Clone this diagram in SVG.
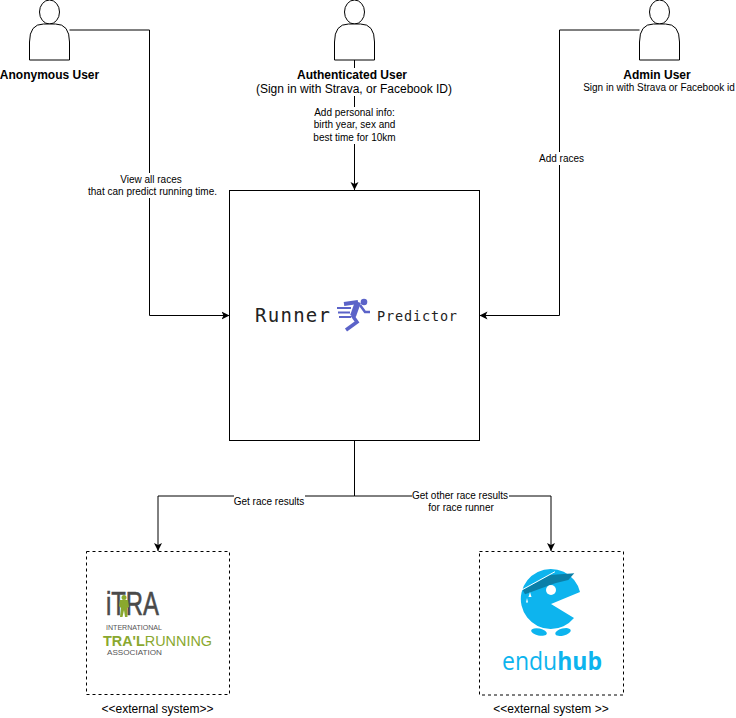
<svg xmlns="http://www.w3.org/2000/svg" width="736" height="718" viewBox="0 0 736 718">
<style>
text{font-family:"Liberation Sans",Arial,sans-serif;fill:#000}
.s{font-size:10px;text-anchor:middle}
.n{font-size:12px;text-anchor:middle}
.b{font-weight:bold}
.actor{fill:#fff;stroke:#000;stroke-width:1}
.c{fill:none;stroke:#000;stroke-width:1}
.ext{fill:#fff;stroke:#000;stroke-width:1;stroke-dasharray:3 3}
.mask{fill:#fff}
.logo{font-family:"DejaVu Sans Mono",monospace;fill:#222}
.ln{fill:none;stroke:#5b63c8}
</style>
<defs>
<marker id="arr" markerUnits="userSpaceOnUse" markerWidth="9" markerHeight="10" refX="8" refY="5" orient="auto"><path d="M0 1L8 5L0 9L2 5Z" fill="#000"/></marker>
<g id="person">
<ellipse cx="20" cy="12" rx="10" ry="12" class="actor"/>
<path d="M0 60V42Q0 24 14 24H26Q40 24 40 42V60Z" class="actor"/>
</g>
</defs>
<g id="connectors">
<path class="c" d="M69.500 30H149.500V315.500H229.500" marker-end="url(#arr)"/>
<path class="c" d="M354.500 60V190" marker-end="url(#arr)"/>
<path class="c" d="M639.500 30H559.500V315.500H479.500" marker-end="url(#arr)"/>
<path class="c" d="M354.500 440.500V496H158V551" marker-end="url(#arr)"/>
<path class="c" d="M354.500 496H551V551" marker-end="url(#arr)"/>
<rect class="mask" x="88" y="173" width="129" height="25"/>
<text class="s" x="151" y="183">View all races</text>
<text class="s" x="152.500" y="195">that can predict running time.</text>
<rect class="mask" x="313" y="107" width="84" height="37"/>
<text class="s" x="354.500" y="116">Add personal info:</text>
<text class="s" x="354.500" y="128">birth year, sex and</text>
<text class="s" x="354.500" y="141">best time for 10km</text>
<rect class="mask" x="538" y="152" width="46" height="13"/>
<text class="s" x="561.500" y="162">Add races</text>
<rect class="mask" x="234" y="495" width="71" height="12"/>
<text class="s" x="269" y="505">Get race results</text>
<rect class="mask" x="412" y="489" width="97" height="25"/>
<text class="s" x="460" y="499">Get other race results</text>
<text class="s" x="461" y="511">for race runner</text>
</g>
<g id="anonymous-user">
<use href="#person" x="29.500" y="0"/>
<text class="n b" x="49.500" y="79">Anonymous User</text>
</g>
<g id="authenticated-user">
<use href="#person" x="334.500" y="0"/>
<rect class="mask" x="256" y="68" width="197" height="28"/>
<text class="n b" x="352" y="79">Authenticated User</text>
<text class="n" x="354" y="93">(Sign in with Strava, or Facebook ID)</text>
</g>
<g id="admin-user">
<use href="#person" x="639.500" y="0"/>
<text class="n b" x="657" y="79">Admin User</text>
<text class="s" x="659" y="91">Sign in with Strava or Facebook id</text>
</g>
<g id="runner-predictor">
<rect x="229.500" y="190.500" width="250" height="250" fill="#fff" stroke="#000"/>
<text class="logo" x="255" y="322" font-size="19" textLength="75" lengthAdjust="spacing">Runner</text>
<text class="logo" x="377" y="321" font-size="13.500" textLength="80" lengthAdjust="spacing">Predictor</text>
<circle cx="364" cy="302" r="3.300" fill="#5b63c8"/>
<path class="ln" d="M344 304L358 302" stroke-width="4"/>
<path class="ln" d="M358 302L353 316" stroke-width="6"/>
<path class="ln" d="M352 315L357 322L346 330" stroke-width="3.500"/>
<path class="ln" d="M360 305L365 312L370 312" stroke-width="2.500"/>
<path class="ln" d="M337 308H351M338 312.500H350M339 317H351" stroke-width="2"/>
</g>
<g id="itra-system">
<rect class="ext" x="86.500" y="551.500" width="143" height="143"/>
<text x="106" y="615" font-size="33" textLength="53" lengthAdjust="spacingAndGlyphs" style="fill:#4a4a4a;stroke:#4a4a4a;stroke-width:.6">iTRA</text>
<g fill="#8aa82e">
<circle cx="124" cy="597.500" r="2.500"/>
<path d="M120 600H128L129 607L127 608L127.500 617H125L124 610L122.500 617H120L121 608L119 606Z"/>
</g>
<text x="106" y="630" font-size="7" textLength="56" lengthAdjust="spacingAndGlyphs" style="fill:#555">INTERNATIONAL</text>
<text x="103" y="646" font-size="15" textLength="109" lengthAdjust="spacingAndGlyphs" style="fill:#8aa82e"><tspan font-weight="bold">TRA'L</tspan>RUNNING</text>
<text x="107" y="655" font-size="7.500" textLength="55" lengthAdjust="spacingAndGlyphs" style="fill:#555">ASSOCIATION</text>
<text class="n" x="157.500" y="713">&lt;&lt;external system&gt;&gt;</text>
</g>
<g id="enduhub-system">
<rect class="ext" x="479.500" y="551.500" width="144" height="143.500"/>
<path d="M580 592A30 30 0 1 0 574 618L551 604Z" fill="#0db4ee"/>
<path d="M522.700 590L550 575L574.300 573.300L568.300 580L555 583.300L525 594.300Z" fill="#0b7fa8"/>
<path d="M521.700 590L555 571.700" fill="none" stroke="#fff" stroke-width="1"/>
<circle cx="551" cy="590" r="5" fill="#fff"/>
<path d="M530 592L531.500 597H528.500ZM527 598L528 602.500H526Z" fill="#fff"/>
<ellipse cx="539" cy="632" rx="8" ry="3.500" fill="#0db4ee" transform="rotate(12 539 632)"/>
<ellipse cx="563" cy="632" rx="8" ry="3.500" fill="#0db4ee" transform="rotate(-15 563 632)"/>
<text x="502" y="670" font-size="25" textLength="100" lengthAdjust="spacingAndGlyphs" style="font-family:'Open Sans',sans-serif;fill:#0db4ee">endu<tspan font-weight="bold">hub</tspan></text>
<text class="n" x="551" y="713">&lt;&lt;external system &gt;&gt;</text>
</g>
</svg>
